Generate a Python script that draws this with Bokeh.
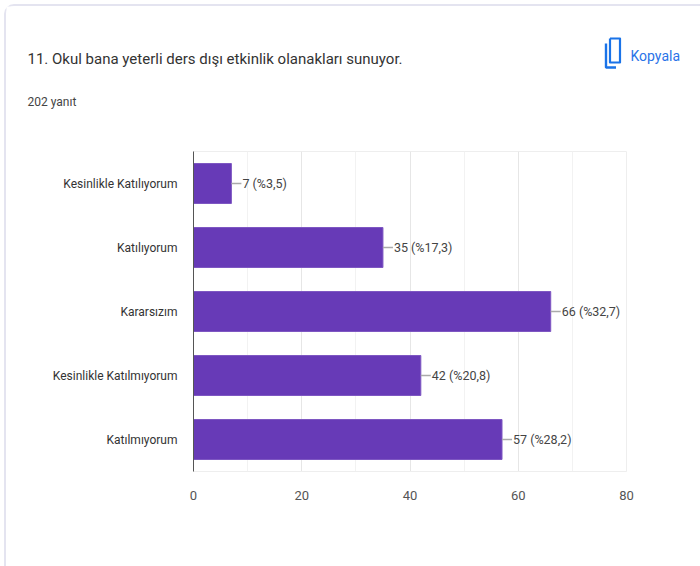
from bokeh.plotting import figure
from bokeh.layouts import column
from bokeh.models import FactorRange, Range1d, FixedTicker
from bokeh.core.properties import value
from bokeh.embed import file_html
from bokeh.resources import INLINE

categories = ["Kesinlikle Katılıyorum", "Katılıyorum", "Kararsızım", "Kesinlikle Katılmıyorum", "Katılmıyorum"]
counts = [7, 35, 66, 42, 57]
labels = ["7 (%3,5)", "35 (%17,3)", "66 (%32,7)", "42 (%20,8)", "57 (%28,2)"]
x_ticks = [0, 20, 40, 60, 80]
title_text = "11. Okul bana yeterli ders dışı etkinlik olanakları sunuyor."
subtitle_text = "202 yanıt"
copy_text = "Kopyala"

FONT = "Roboto"
OX, OY = 6, 6            # top-left of the card's content inside the page
W = 700 - OX
HEAD_H = 151 - OY
L, R, T, B = 193, 626, 151, 471
CHART_H = 566 - T

# ---- header: question, answer count, copy button ----
h = figure(width=W, height=HEAD_H, output_backend="svg", toolbar_location=None,
           x_range=Range1d(OX, 700), y_range=Range1d(T, OY), frame_align=False,
           min_border_left=0, min_border_right=0, min_border_top=0, min_border_bottom=0)
h.xaxis.visible = False
h.yaxis.visible = False
h.grid.visible = False
h.outline_line_color = None
h.border_fill_color = "white"

def head_text(text, x, y, size, color):
    h.text(x=[x], y=[y], text=[text], text_baseline="middle", text_font=value(FONT),
           text_font_size=size, text_color=color)

head_text(title_text, 27, 58, "15px", "#333333")
head_text(subtitle_text, 27, 101, "12px", "#444444")
head_text(copy_text, 630, 55, "14px", "#2a73e8")

ICON = "#1a73e8"
h.line(x=[605.5, 605.5, 615.5], y=[43, 67, 67], line_color=ICON, line_width=2.4)
h.line(x=[609.5, 619.5, 619.5, 609.5, 609.5], y=[38, 38, 62, 62, 38], line_color=ICON,
       line_width=2.2, line_join="round")

# ---- chart ----
p = figure(width=W, height=CHART_H, output_backend="svg", toolbar_location=None,
           x_range=Range1d(0, 80), y_range=FactorRange(factors=categories[::-1]), frame_align=False,
           min_border_left=L - OX, min_border_right=700 - R,
           min_border_top=0, min_border_bottom=566 - B)
p.outline_line_color = "#eeeeee"
p.outline_line_width = 1
p.background_fill_color = "white"
p.border_fill_color = "white"

p.xgrid.ticker = FixedTicker(ticks=x_ticks, minor_ticks=[10, 30, 50, 70])
p.xgrid.grid_line_color = "#e6e6e6"
p.xgrid.minor_grid_line_color = "#f2f2f2"
p.ygrid.grid_line_color = None

p.xaxis.ticker = FixedTicker(ticks=x_ticks)
p.xaxis.axis_line_color = "#eeeeee"
p.xaxis.major_tick_line_color = None
p.xaxis.minor_tick_line_color = None
p.xaxis.major_label_text_font = FONT
p.xaxis.major_label_text_font_size = "13px"
p.xaxis.major_label_text_color = "#555555"
p.xaxis.major_label_standoff = 13

p.yaxis.axis_line_color = "#555555"
p.yaxis.axis_line_width = 1
p.yaxis.major_tick_line_color = None
p.yaxis.minor_tick_line_color = None
p.yaxis.major_label_text_font = FONT
p.yaxis.major_label_text_font_size = "12px"
p.yaxis.major_label_text_color = "#333333"
p.yaxis.major_label_standoff = 10

p.hbar(y=categories, right=counts, left=0, height=0.625, fill_color="#673ab7", line_color="#7e57c2", line_width=1)
p.segment(x0=counts, x1=[c + 1.85 for c in counts], y0=categories, y1=categories, line_color="#aaaaaa", line_width=1.5)
p.text(x=counts, y=categories, text=labels, x_offset=11, text_baseline="middle",
       text_font=value(FONT), text_font_size="12.5px", text_color="#444444")

page = column(h, p, spacing=0, margin=(4, 0, 0, 4),
              styles={"border-left": "2px solid #e4e4f0", "border-top": "2px solid #e4e4f0",
                      "border-top-left-radius": "10px", "box-sizing": "content-box"})

open("out.html", "w").write(file_html(page, INLINE))
